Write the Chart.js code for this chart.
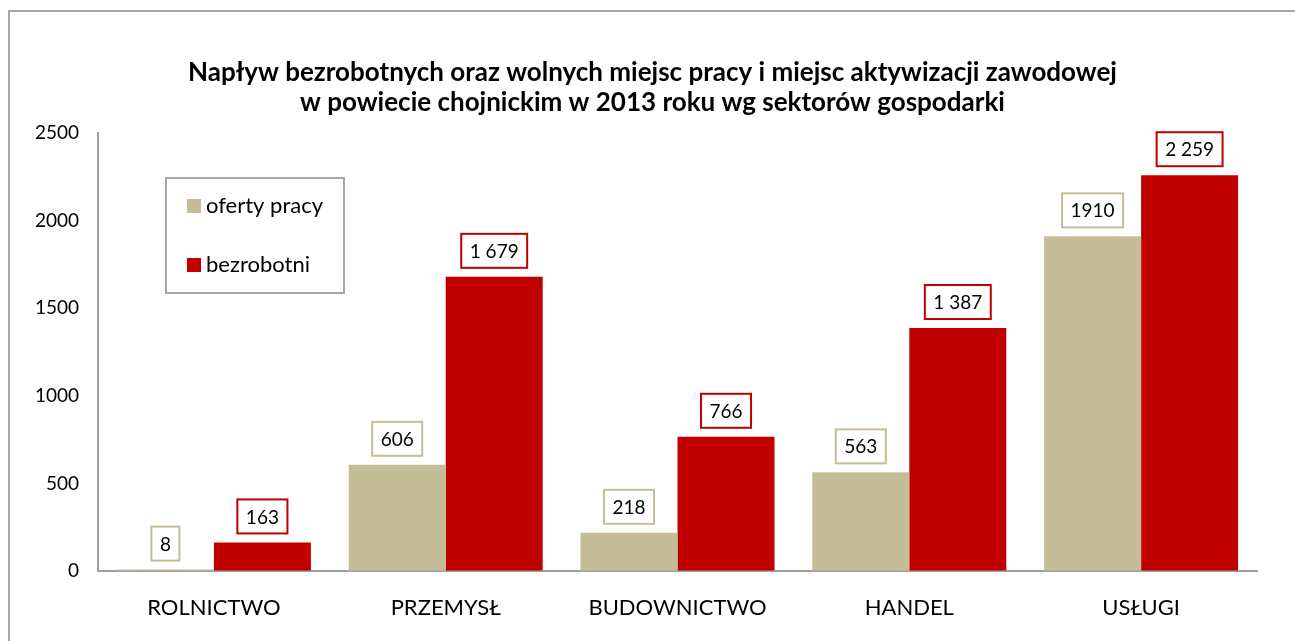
<!DOCTYPE html>
<html lang="pl">
<head>
  <meta charset="UTF-8">
  <title>Napływ bezrobotnych oraz wolnych miejsc pracy</title>
  <script src="https://cdn.jsdelivr.net/npm/chart.js"></script>
  <style>
    body { margin: 0; background: #fff; overflow: hidden; }
    .wrap { position: relative; width: 1295px; height: 641px; }
    .frame {
      position: absolute; left: 8px; top: 10px; right: -20px; bottom: -20px;
      border: 2px solid #a6a6a6; pointer-events: none;
    }
    canvas { position: absolute; left: 0; top: 0; }
  </style>
</head>
<body>
  <div class="wrap">
    <canvas id="chart" width="1295" height="641"></canvas>
    <div class="frame"></div>
  </div>

  <script>
    const titleLines = [
      'Napływ bezrobotnych oraz wolnych miejsc pracy i miejsc aktywizacji zawodowej',
      'w powiecie chojnickim w 2013 roku wg sektorów gospodarki'
    ];
    const sectors = ['ROLNICTWO', 'PRZEMYSŁ', 'BUDOWNICTWO', 'HANDEL', 'USŁUGI'];
    const seriesNames = ['oferty pracy', 'bezrobotni'];
    const ofertyPracy = [8, 606, 218, 563, 1910];
    const bezrobotni = [163, 1679, 766, 1387, 2259];
    const seriesColors = ['#c4bd97', '#c00000'];
    // tan labels are plain, red ones use a space as thousands separator
    const thousandsSep = ['', ' '];
    const yTicks = { min: 0, max: 2500, step: 500 };

    Chart.defaults.font.family = 'Lato';
    Chart.defaults.color = '#000';

    function formatValue(v, sep) {
      return String(v).replace(/\B(?=(\d{3})+(?!\d))/g, sep);
    }

    // boxed value labels above each bar
    const boxLabels = {
      id: 'boxLabels',
      afterDatasetsDraw(chart) {
        const ctx = chart.ctx;
        ctx.save();
        ctx.font = '19px Lato';
        ctx.textAlign = 'center';
        ctx.textBaseline = 'middle';
        chart.data.datasets.forEach((ds, di) => {
          const meta = chart.getDatasetMeta(di);
          meta.data.forEach((bar, i) => {
            const text = formatValue(ds.data[i], thousandsSep[di]);
            const w = ctx.measureText(text).width + 17;
            const h = 34;
            const x = bar.x - w / 2;
            const y = bar.y - 9 - h;
            ctx.fillStyle = '#fff';
            ctx.fillRect(x, y, w, h);
            ctx.strokeStyle = ds.backgroundColor;
            ctx.lineWidth = 2;
            ctx.strokeRect(x, y, w, h);
            ctx.fillStyle = '#000';
            ctx.fillText(text, bar.x, y + h / 2 + 1);
          });
        });
        ctx.restore();
      }
    };

    // boxed legend inside the plot, top-left
    const boxLegend = {
      id: 'boxLegend',
      afterDraw(chart) {
        const ctx = chart.ctx;
        ctx.save();
        ctx.strokeStyle = '#a6a6a6';
        ctx.lineWidth = 2;
        ctx.strokeRect(166, 178, 178, 115);
        ctx.font = '22px Lato';
        ctx.textAlign = 'left';
        ctx.textBaseline = 'middle';
        chart.data.datasets.forEach((ds, i) => {
          const cy = 206 + i * 59;
          ctx.fillStyle = ds.backgroundColor;
          ctx.fillRect(187, cy - 7, 14, 14);
          ctx.fillStyle = '#000';
          ctx.fillText(ds.label, 206, cy);
        });
        ctx.restore();
      }
    };

    new Chart(document.getElementById('chart'), {
      type: 'bar',
      data: {
        labels: sectors,
        datasets: [
          { label: seriesNames[0], data: ofertyPracy, backgroundColor: seriesColors[0] },
          { label: seriesNames[1], data: bezrobotni, backgroundColor: seriesColors[1] }
        ]
      },
      options: {
        responsive: false,
        animation: false,
        devicePixelRatio: 1,
        layout: { padding: { left: 10, right: 0, top: 0, bottom: 0 } },
        datasets: {
          bar: { categoryPercentage: 0.837, barPercentage: 1, borderWidth: 0 }
        },
        plugins: {
          legend: { display: false },
          tooltip: { enabled: false },
          title: {
            display: true,
            text: titleLines,
            color: '#000',
            font: { family: 'Lato', size: 26, weight: 'bold', lineHeight: 30 / 26 },
            padding: { top: 58, bottom: 15 }
          }
        },
        scales: {
          x: {
            grid: { display: true, drawOnChartArea: false, drawTicks: false },
            border: { display: true, color: '#a0a0a0', width: 2 },
            ticks: { font: { size: 22 }, padding: 24, color: '#000' },
            afterFit(scale) { scale.height = 70; }
          },
          y: {
            min: yTicks.min,
            max: yTicks.max,
            grid: { display: true, drawOnChartArea: false, drawTicks: false },
            border: { display: true, color: '#a0a0a0', width: 2 },
            ticks: {
              stepSize: yTicks.step,
              font: { size: 19 },
              padding: 19,
              color: '#000',
              callback: (v) => String(v)
            },
            afterFit(scale) { scale.width = 88; }
          },
          // empty right-hand spacer so the title stays centred on the whole canvas
          spacer: {
            position: 'right',
            display: true,
            grid: { display: false },
            border: { display: false },
            ticks: { display: false },
            afterFit(scale) { scale.width = 38; }
          }
        }
      },
      plugins: [boxLabels, boxLegend]
    });
  </script>
</body>
</html>
